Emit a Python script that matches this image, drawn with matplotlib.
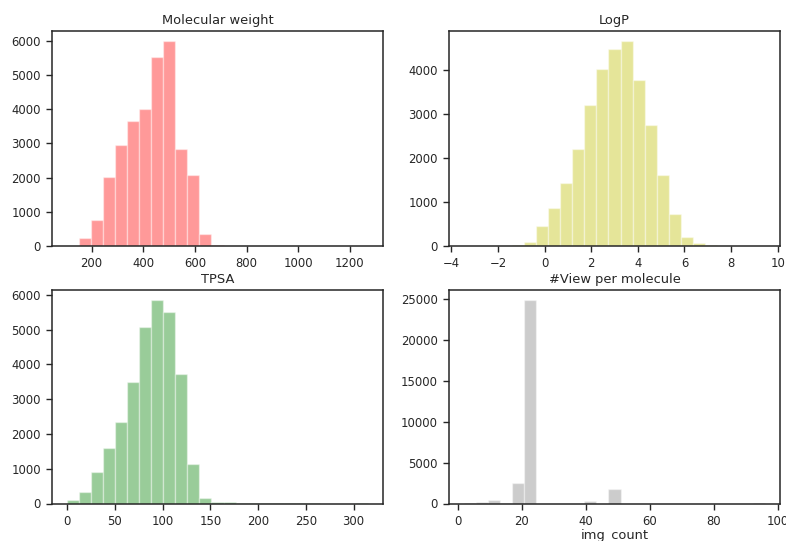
import numpy as np
import matplotlib
matplotlib.use("Agg")
import matplotlib.pyplot as plt

# ---- data (histogram counts, 25 equal bins per panel) ----
mw_range = (105, 1270)
mw_counts = [10, 230, 770, 2030, 2940, 3650, 4000, 5530, 5990, 2850, 2080, 350,
             15, 8, 6, 3, 2, 1, 1, 0, 0, 0, 0, 0, 1]

logp_range = (-3.45, 9.45)
logp_counts = [1, 2, 4, 8, 18, 100, 450, 860, 1437, 2193, 3206, 4015, 4461, 4643,
               3773, 2752, 1610, 718, 195, 60, 28, 8, 3, 1, 1]

tpsa_range = (0, 315)
tpsa_counts = [96, 335, 917, 1586, 2331, 3496, 5064, 5847, 5513, 3726, 1146, 160,
               57, 37, 8, 5, 3, 2, 1, 1, 1, 0, 0, 0, 1]

view_range = (2, 96)
view_counts = [5, 150, 400, 120, 2528, 24900, 0, 0, 0, 0, 260, 0, 1835, 0, 0,
               0, 0, 0, 0, 0, 0, 0, 0, 0, 1]

titles = ["Molecular weight", "LogP", "TPSA", "#View per molecule"]
colors = ["r", "y", "g", "gray"]
ranges = [mw_range, logp_range, tpsa_range, view_range]
counts = [mw_counts, logp_counts, tpsa_counts, view_counts]

dark = "#262626"
plt.rcParams.update({
    "font.family": "DejaVu Sans",
    "text.color": dark,
    "axes.labelcolor": dark,
    "xtick.color": dark,
    "ytick.color": dark,
    "axes.edgecolor": dark,
    "axes.linewidth": 1.1,
    "xtick.major.size": 4.5,
    "ytick.major.size": 4.5,
    "xtick.major.width": 1.0,
    "ytick.major.width": 1.0,
    "xtick.labelsize": 8.4,
    "ytick.labelsize": 8.4,
})

fig = plt.figure(figsize=(7.86, 5.41), dpi=100)
W, H = 786.0, 541.0
rects = [
    (52, 31, 383, 246),
    (449, 31, 780, 246),
    (52, 290, 383, 503.5),
    (449, 290, 780, 503.5),
]

for (l, t, r, b), title, col, rng, cnt in zip(rects, titles, colors, ranges, counts):
    ax = fig.add_axes([l / W, 1 - b / H, (r - l) / W, (b - t) / H])
    edges = np.linspace(rng[0], rng[1], len(cnt) + 1)
    ax.bar(edges[:-1], cnt, width=np.diff(edges), align="edge",
           color=col, alpha=0.4, edgecolor="white", linewidth=1.0)
    ax.set_title(title, fontsize=9.4, pad=5)
    ax.tick_params(direction="out")

ax.set_xlabel("img_count", fontsize=9.4, labelpad=1)

fig.savefig("out.png", dpi=100)
